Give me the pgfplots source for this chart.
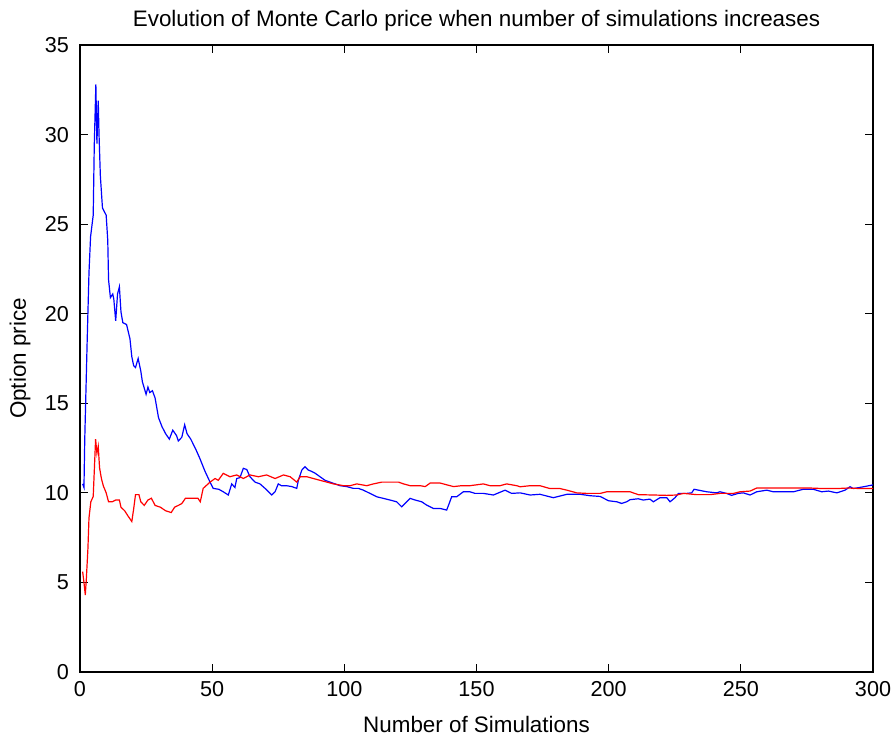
\documentclass[border=0pt]{standalone}
\usepackage{fontspec}
\setmainfont{Liberation Sans}
\usepackage{pgfplots}
\pgfplotsset{compat=1.18}
\usetikzlibrary{calc}
\definecolor{mblue}{RGB}{0,0,255}
\definecolor{mred}{RGB}{255,0,0}
\begin{document}
\begin{tikzpicture}
\begin{axis}[
    name=ax,
    scale only axis,
    width=396.5pt, height=313.5pt,
    xmin=0, xmax=300, ymin=0, ymax=35,
    xtick={0,50,...,300}, ytick={0,5,...,35},
    tick align=inside,
    major tick length=4pt,
    tick style={black, line width=0.5pt},
    axis line style={black, line width=0.6pt},
    tick label style={font=\fontsize{10.8}{12}\selectfont},
    label style={font=\fontsize{11.2}{12}\selectfont},
    /pgf/number format/assume math mode=true,
    xticklabel style={yshift=-1pt},
    yticklabel style={xshift=-2pt},
    title={Evolution of Monte Carlo price when number of simulations increases},
    % the default title style already moves it up 6pt
    title style={font=\fontsize{11.2}{12}\selectfont, at={(axis description cs:0.5,1)}, anchor=center, yshift=6pt},
    xlabel={Number of Simulations},
    ylabel={Option price},
    xlabel style={at={(axis description cs:0.5,-0.083)}, anchor=center},
    ylabel style={at={(axis description cs:-0.0757,0.5)}, anchor=center},
]
% blue series
\addplot[mblue, line width=0.6pt] coordinates {
(1,10.5) (1.5,10.3) (1.8,13.0) (2.7,18.4) (3.4,22.3) (4.0,24.3) (5.0,25.5) (5.4,29.4)
(6.0,32.8) (6.4,29.5) (6.9,31.9) (7.2,30.0) (7.7,27.7) (8.5,25.9) (9.9,25.5) (10.5,24.1)
(10.8,21.9) (11.5,20.9) (12.4,21.1) (12.8,20.8) (13.5,19.6) (14.2,21.1) (14.9,21.5)
(15.5,20.1) (16.2,19.5) (17.6,19.4) (18.9,18.6) (19.6,17.6) (20.3,17.1) (21,17.0)
(22,17.5) (23,16.8) (23.6,16.2) (25,15.5) (25.7,15.9) (26.4,15.6) (27.4,15.7) (28.4,15.3)
(29.7,14.2) (31,13.7) (32.4,13.3) (33.8,13.0) (35.1,13.5) (36.5,13.2) (37.2,12.9)
(38.5,13.1) (39.6,13.8) (40.5,13.3) (41.9,13.0) (43.9,12.4) (45.4,11.9) (47.3,11.2)
(49.2,10.6) (50.4,10.25) (52.5,10.2) (54.2,10.06) (56.1,9.88) (57.4,10.5) (58.6,10.3)
(59.3,10.8) (60.5,10.85) (61.8,11.37) (63.1,11.3) (64.3,10.9) (66.2,10.6) (68.1,10.5)
(70,10.25) (71.3,10.06) (72.5,9.88) (73.8,10.06) (75,10.5) (76.2,10.4) (78.1,10.4)
(80.1,10.35) (82,10.25) (82.6,10.7) (83.9,11.27) (85.1,11.46) (86.4,11.27) (87.6,11.2)
(88.9,11.1) (90.8,10.9) (92.7,10.7) (94.6,10.6) (96.5,10.5) (98.4,10.4) (100.9,10.35)
(103.4,10.25) (105.3,10.25) (107.2,10.15) (109.7,9.97) (112.3,9.78) (114.8,9.69)
(117.3,9.6) (119.8,9.5) (121.7,9.22) (123,9.41) (124.9,9.69) (126.8,9.6) (129.3,9.5)
(131.1,9.32) (133.7,9.13) (136.2,9.13) (138.7,9.04) (139.4,9.3) (140.6,9.78) (142.5,9.78)
(145,10.06) (147.5,10.06) (149.4,9.97) (152.6,9.97) (156.4,9.88) (160.8,10.15)
(163.3,9.97) (166.5,10.0) (170.3,9.88) (174,9.92) (179.1,9.73) (184.2,9.92) (189.2,9.92)
(193,9.84) (196.8,9.8) (199.9,9.56) (203.1,9.5) (204.9,9.41) (206.8,9.5) (208.1,9.62)
(211.2,9.67) (213.1,9.6) (215.6,9.65) (216.9,9.5) (219.4,9.73) (222,9.73) (223.2,9.5)
(225.1,9.73) (226.4,9.97) (229.5,9.97) (231.4,10.0) (232.3,10.2) (237.1,10.06)
(240.8,10.0) (242.1,10.06) (244.6,9.97) (246.5,9.86) (249,9.97) (250.9,10.0)
(253.5,9.88) (256,10.06) (259.8,10.15) (262.3,10.06) (266.1,10.06) (269.9,10.06)
(273.6,10.2) (277.4,10.2) (280.6,10.06) (283.1,10.1) (286.3,10.0) (289.4,10.15)
(291.3,10.34) (292.6,10.24) (296.4,10.34) (299.5,10.43) (300,10.45)
};
% red series
\addplot[mred, line width=0.6pt] coordinates {
(1,5.6) (1.5,5.0) (2,4.3) (2.4,5.2) (3.0,6.9) (3.4,8.6) (4.1,9.5) (5.0,9.8) (5.4,11.2)
(5.9,13.0) (6.4,12.2) (6.9,12.6) (7.4,11.4) (8.1,10.8) (8.8,10.4) (9.9,10.0) (10.8,9.5)
(12.2,9.5) (13.5,9.6) (14.9,9.6) (15.5,9.2) (16.9,9.0) (18.2,8.7) (19.6,8.4) (20.3,9.1)
(21,9.9) (22.3,9.9) (23,9.5) (24.3,9.3) (25.7,9.6) (27,9.7) (28.4,9.3) (30.4,9.2)
(32.4,9.0) (34.5,8.9) (35.8,9.2) (37.2,9.3) (38.5,9.4) (39.9,9.7) (41.9,9.7) (44.6,9.7)
(45.5,9.5) (46.6,10.25) (49.2,10.6) (51.1,10.8) (52.3,10.7) (54.2,11.09) (56.7,10.9)
(59.3,11.0) (61.8,10.8) (64.3,11.0) (67.5,10.9) (70.6,11.0) (73.8,10.8) (77,11.0)
(79.5,10.9) (82,10.6) (83.3,10.9) (85.8,10.9) (88.3,10.8) (90.8,10.7) (93.4,10.6)
(95.9,10.5) (99.7,10.4) (102.2,10.4) (104.7,10.5) (108.5,10.4) (111,10.5) (114.2,10.6)
(117.3,10.6) (120.5,10.6) (122.4,10.5) (124.9,10.4) (128.7,10.4) (130.6,10.35)
(132.5,10.55) (136.2,10.55) (138.7,10.45) (141.3,10.35) (144.4,10.4) (147.5,10.4)
(150.1,10.45) (152.6,10.5) (155.1,10.4) (158.9,10.4) (161.4,10.5) (165.2,10.4)
(166.5,10.34) (170.3,10.4) (174,10.4) (177.8,10.24) (181.6,10.24) (184.2,10.15)
(187.9,10.0) (191.7,9.97) (196.8,9.97) (199.3,10.06) (204.4,10.06) (208.1,10.06)
(211.2,9.9) (216.9,9.88) (222,9.86) (225.8,9.88) (228.3,9.97) (233.3,9.9) (238.4,9.9)
(242.1,9.97) (247.2,9.97) (249.7,10.06) (253.5,10.1) (256,10.27) (259.8,10.27)
(264.8,10.27) (271.1,10.27) (276.1,10.27) (281.2,10.24) (286.3,10.24) (290.7,10.27)
(295.1,10.24) (299.5,10.24) (300,10.25)
};
\end{axis}
\pgfresetboundingbox
\path[use as bounding box] ($(ax.south west)+(-40pt,-32pt)$) rectangle ($(ax.north east)+(11pt,22.5pt)$);
\end{tikzpicture}
\end{document}
